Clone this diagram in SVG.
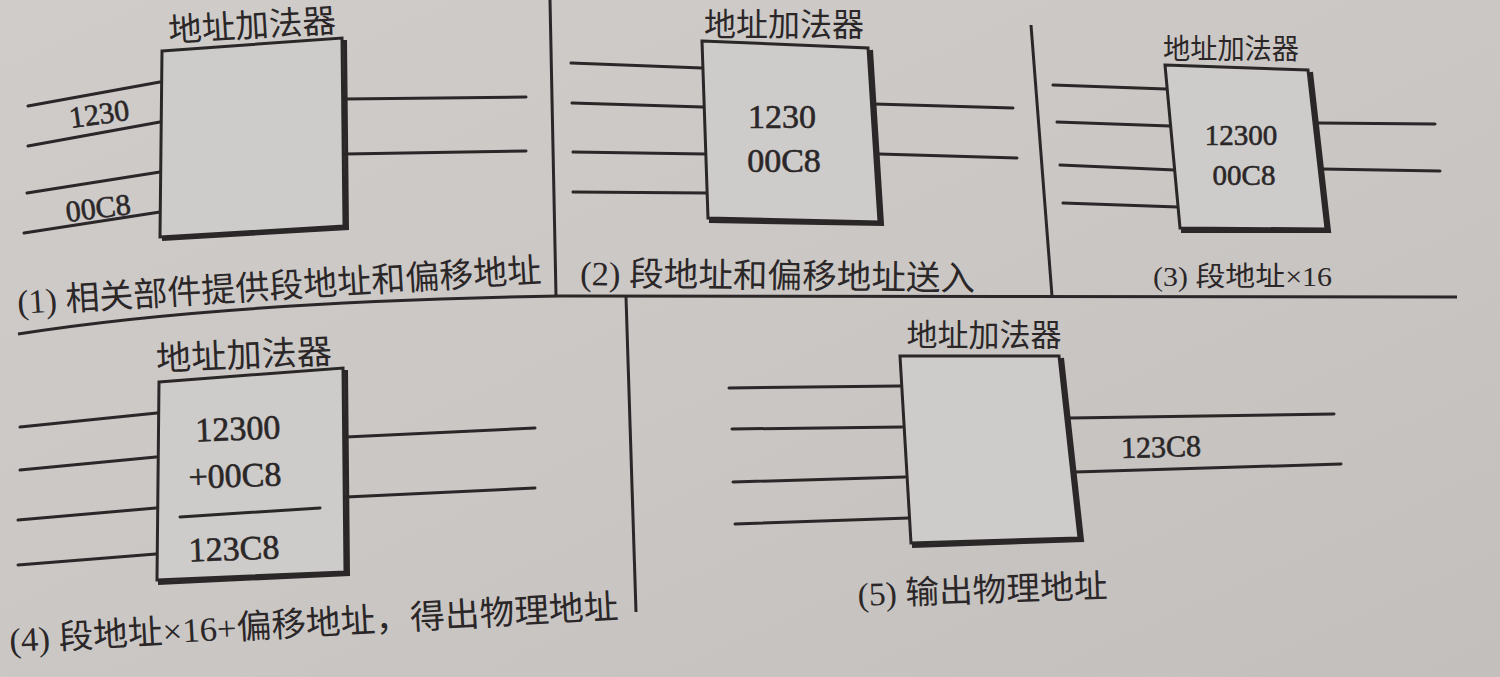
<svg xmlns="http://www.w3.org/2000/svg" width="1500" height="677" viewBox="0 0 1500 677">
  <defs>
    <linearGradient id="paper" x1="0" y1="0" x2="1" y2="1">
      <stop offset="0" stop-color="#cfccca"/>
      <stop offset="0.5" stop-color="#cac7c5"/>
      <stop offset="1" stop-color="#c2bfbd"/>
    </linearGradient>
    <style>
      .ln{stroke:#2b2728;stroke-width:3;fill:none;stroke-linecap:round}
      .div{stroke:#2b2728;stroke-width:3;fill:none}
      .box{fill:#ceccca;stroke:#2b2728;stroke-width:3;stroke-linejoin:miter}
      .sh{stroke:#2b2728;stroke-width:4;fill:none}
      .cj{font-family:"Liberation Serif","Noto Sans CJK SC",serif;fill:#2b2728}
      .num{font-family:"Liberation Serif",serif;fill:#2b2728;stroke:#2b2728;stroke-width:0.6}
    </style>
  </defs>
  <rect width="1500" height="677" fill="url(#paper)"/>

  <!-- page dividers -->
  <g id="dividers">
    <path class="div" d="M550,0 L556,296"/>
    <path class="div" d="M1031,25 L1052,296"/>
    <path class="div" d="M18,334 Q220,302 560,296 L1457,297"/>
    <path class="div" d="M626,297 L636,612"/>
  </g>

  <!-- connectors -->
  <g id="connectors">
    <!-- panel 1 -->
    <path class="ln" d="M28,106 L160,82"/>
    <path class="ln" d="M28,146 L160,122"/>
    <path class="ln" d="M27,193 L160,172"/>
    <path class="ln" d="M24,233 L160,212"/>
    <path class="ln" d="M345,99 L526,97"/>
    <path class="ln" d="M345,154 L526,151"/>
    <text class="num" x="99" y="124" font-size="30" text-anchor="middle" transform="rotate(-8 99 113)">1230</text>
    <text class="num" x="98" y="218" font-size="30" text-anchor="middle" transform="rotate(-7 98 207)">00C8</text>
    <!-- panel 2 -->
    <path class="ln" d="M571,63 L702,68"/>
    <path class="ln" d="M572,103 L703,107"/>
    <path class="ln" d="M573,152 L705,154"/>
    <path class="ln" d="M573,192 L707,193"/>
    <path class="ln" d="M874,104 L1013,108"/>
    <path class="ln" d="M879,154 L1017,158"/>
    <!-- panel 3 -->
    <path class="ln" d="M1053,85 L1166,89"/>
    <path class="ln" d="M1057,122 L1170,126"/>
    <path class="ln" d="M1060,165 L1175,170"/>
    <path class="ln" d="M1063,203 L1178,207"/>
    <path class="ln" d="M1318,123 L1435,124"/>
    <path class="ln" d="M1322,169 L1440,171"/>
    <!-- panel 4 -->
    <path class="ln" d="M20,427 L157,413"/>
    <path class="ln" d="M20,470 L156,457"/>
    <path class="ln" d="M18,520 L156,508"/>
    <path class="ln" d="M18,565 L156,554"/>
    <path class="ln" d="M346,437 L535,428"/>
    <path class="ln" d="M346,497 L535,488"/>
    <!-- panel 5 -->
    <path class="ln" d="M729,388 L900,386"/>
    <path class="ln" d="M732,429 L902,427"/>
    <path class="ln" d="M733,482 L905,477"/>
    <path class="ln" d="M735,524 L909,518"/>
    <path class="ln" d="M1070,418 L1334,414"/>
    <path class="ln" d="M1075,472 L1341,464"/>
    <text class="num" x="1161" y="457" font-size="30" text-anchor="middle" transform="rotate(-1.5 1161 447)">123C8</text>
  </g>

  <!-- panel 1 -->
  <g id="adder1">
    <polygon class="box" points="162,51 342,38 344,226 160,237"/>
    <path class="sh" d="M345,40 L347,228 L162,239"/>
    <text class="cj" x="252" y="37" font-size="33" text-anchor="middle" textLength="168" lengthAdjust="spacingAndGlyphs" transform="rotate(-3.5 252 25)">地址加法器</text>
  </g>
  <g id="caption1">
    <text class="cj" x="18" y="314" font-size="34" textLength="525" lengthAdjust="spacingAndGlyphs" transform="rotate(-3.5 18 314)">(1) 相关部件提供段地址和偏移地址</text>
  </g>

  <!-- panel 2 -->
  <g id="adder2">
    <polygon class="box" points="702,41 868,48 879,222 708,218"/>
    <path class="sh" d="M871,50 L882,224 L709,221"/>
    <text class="cj" x="784" y="36" font-size="32" text-anchor="middle" textLength="160" lengthAdjust="spacingAndGlyphs">地址加法器</text>
    <text class="num" x="782" y="128" font-size="34" text-anchor="middle">1230</text>
    <text class="num" x="784" y="172" font-size="34" text-anchor="middle">00C8</text>
  </g>
  <g id="caption2">
    <text class="cj" x="580" y="285" font-size="34" textLength="395" lengthAdjust="spacingAndGlyphs" transform="rotate(0.8 580 285)">(2) 段地址和偏移地址送入</text>
  </g>

  <!-- panel 3 -->
  <g id="adder3">
    <polygon class="box" points="1165,65 1308,70 1326,229 1180,228"/>
    <path class="sh" d="M1311,72 L1329,231 L1181,231"/>
    <text class="cj" x="1231" y="59" font-size="28" text-anchor="middle" textLength="136" lengthAdjust="spacingAndGlyphs">地址加法器</text>
    <text class="num" x="1241" y="145" font-size="29" text-anchor="middle">12300</text>
    <text class="num" x="1244" y="185" font-size="29" text-anchor="middle">00C8</text>
  </g>
  <g id="caption3">
    <text class="cj" x="1153" y="286" font-size="27" textLength="179" lengthAdjust="spacingAndGlyphs">(3) 段地址×16</text>
  </g>

  <!-- panel 4 -->
  <g id="adder4">
    <polygon class="box" points="159,382 343,368 345,572 157,580"/>
    <path class="sh" d="M346,370 L348,574 L158,583"/>
    <text class="cj" x="244" y="367" font-size="34" text-anchor="middle" textLength="176" lengthAdjust="spacingAndGlyphs" transform="rotate(-2.5 244 355)">地址加法器</text>
    <text class="num" x="238" y="440" font-size="34" text-anchor="middle" transform="rotate(-2 238 430)">12300</text>
    <text class="num" x="235" y="487" font-size="34" text-anchor="middle" transform="rotate(-2 235 477)">+00C8</text>
    <path class="ln" d="M180,517 L320,508" stroke-width="2.5"/>
    <text class="num" x="234" y="560" font-size="34" text-anchor="middle" transform="rotate(-2 234 550)">123C8</text>
  </g>
  <g id="caption4">
    <text class="cj" x="10" y="652" font-size="34" textLength="610" lengthAdjust="spacingAndGlyphs" transform="rotate(-3.2 10 652)">(4) 段地址×16+偏移地址，得出物理地址</text>
  </g>

  <!-- panel 5 -->
  <g id="adder5">
    <polygon class="box" points="900,356 1059,356 1079,538 911,543"/>
    <path class="sh" d="M1062,358 L1082,540 L912,546"/>
    <text class="cj" x="984" y="346" font-size="31" text-anchor="middle" textLength="155" lengthAdjust="spacingAndGlyphs">地址加法器</text>
  </g>
  <g id="caption5">
    <text class="cj" x="858" y="606" font-size="33" textLength="250" lengthAdjust="spacingAndGlyphs" transform="rotate(-2 858 606)">(5) 输出物理地址</text>
  </g>
</svg>
